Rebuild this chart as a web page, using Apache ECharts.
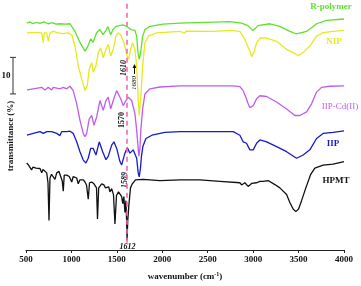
<!DOCTYPE html>
<html><head><meta charset="utf-8">
<script src="https://cdn.jsdelivr.net/npm/echarts@6/dist/echarts.min.js"></script>
<style>html,body{margin:0;padding:0;background:#fff}#c{width:361px;height:286px}</style>
</head><body><div id="c"></div>
<script>
// wavenumber (cm-1), transmittance (%) with vertical offsets as in the figure
const rPolymer = [[510,62.1],[544,62.4],[577,61.9],[610,62.3],[654,62.0],[698,62.4],[742,61.9],[786,62.2],[830,61.8],[874,61.9],[929,61.8],[984,61.9],[1003,62.1],[1039,59.8],[1094,56.8],[1149,54.4],[1182,55.8],[1212,57.8],[1237,56.8],[1278,59.5],[1314,60.3],[1347,58.9],[1380,60.1],[1402,61.1],[1432,58.9],[1457,60.3],[1490,61.2],[1512,61.6],[1567,61.6],[1608,61.2],[1655,60.3],[1677,59.8],[1699,60.1],[1718,58.5],[1732,54.1],[1746,52.2],[1762,54.1],[1784,58.5],[1809,60.3],[1864,61.2],[2007,61.8],[2194,62.1],[2744,62.5],[2873,62.1],[2942,61.4],[2994,60.1],[3019,60.5],[3052,61.4],[3184,61.9],[3294,61.2],[3404,59.8],[3478,59.1],[3588,59.8],[3698,61.9],[3808,62.8],[4000,63.2]];
const nip = [[510,59.4],[563,59.5],[632,59.5],[673,59.4],[690,56.7],[701,59.4],[728,59.4],[745,57.1],[764,59.4],[800,59.8],[855,59.4],[910,59.2],[965,59.4],[1003,58.9],[1039,55.8],[1075,50.4],[1113,46.8],[1149,43.6],[1174,44.9],[1196,49.5],[1223,51.3],[1240,48.6],[1270,50.4],[1295,54.0],[1322,55.3],[1350,52.6],[1380,54.9],[1405,56.2],[1432,53.1],[1460,54.9],[1490,58.5],[1515,59.4],[1542,58.9],[1578,56.7],[1608,53.5],[1630,52.2],[1652,54.9],[1674,56.7],[1699,54.9],[1718,50.4],[1735,41.4],[1746,36.8],[1762,41.4],[1784,50.4],[1809,56.7],[1845,58.5],[1938,59.4],[2194,59.8],[2249,59.3],[2260,59.9],[2560,59.8],[2744,60.1],[2854,59.8],[2909,57.6],[2964,54.4],[2983,52.9],[3008,54.0],[3038,56.7],[3074,58.0],[3148,58.0],[3258,57.1],[3368,54.9],[3440,54.0],[3495,53.2],[3550,54.0],[3624,55.8],[3698,58.5],[3770,59.5],[3880,59.8],[4000,60.1]];
const iipCd = [[510,43.8],[580,44.1],[673,44.5],[690,44.8],[709,43.8],[745,44.5],[764,44.5],[783,43.8],[800,44.5],[838,44.3],[874,44.1],[910,44.5],[948,44.1],[984,44.8],[1003,44.9],[1020,43.6],[1058,40.0],[1094,35.5],[1130,31.9],[1149,31.0],[1168,31.9],[1196,35.9],[1223,36.8],[1248,34.1],[1278,36.4],[1314,40.9],[1350,38.2],[1380,40.9],[1405,41.8],[1432,38.6],[1460,40.9],[1498,43.6],[1515,43.2],[1542,41.4],[1570,39.5],[1600,40.9],[1625,41.8],[1663,40.9],[1680,40.5],[1699,37.3],[1718,32.8],[1735,27.8],[1743,25.7],[1754,27.8],[1765,33.2],[1784,38.6],[1809,42.7],[1864,44.1],[1974,44.6],[2194,44.9],[2378,44.9],[2777,44.9],[2854,44.7],[2890,43.6],[2920,41.8],[2945,40.0],[2964,38.9],[2983,38.6],[3001,39.5],[3038,41.4],[3074,42.2],[3148,42.0],[3258,40.5],[3368,38.6],[3459,36.8],[3514,36.8],[3588,37.8],[3643,40.0],[3698,43.2],[3753,44.5],[3844,44.8],[4000,44.9]];
const iip = [[510,31.4],[580,31.9],[654,32.4],[690,31.9],[728,32.4],[783,32.4],[800,32.5],[838,31.9],[874,31.3],[893,32.4],[948,32.4],[984,32.5],[1020,31.9],[1058,29.6],[1094,26.9],[1130,24.6],[1160,23.8],[1185,25.1],[1212,27.8],[1240,27.8],[1270,26.0],[1306,29.6],[1344,26.9],[1380,24.7],[1405,25.6],[1443,28.7],[1468,29.6],[1498,27.8],[1534,24.2],[1553,23.3],[1589,26.5],[1614,28.0],[1644,26.5],[1680,27.4],[1699,27.8],[1718,25.1],[1735,21.1],[1746,20.0],[1760,22.4],[1771,25.7],[1787,28.4],[1820,30.5],[1886,31.4],[2029,32.2],[2194,32.4],[2780,32.4],[2854,31.4],[2890,29.6],[2927,29.2],[2964,27.4],[2983,27.8],[3001,27.4],[3038,29.2],[3074,30.1],[3148,29.6],[3258,28.3],[3368,26.9],[3478,25.1],[3550,26.0],[3624,27.4],[3698,30.5],[3770,31.9],[3880,32.2],[4000,32.6]];
const hpmt = [[508,23.8],[528,23.2],[544,23.0],[561,21.9],[577,22.7],[610,22.4],[632,22.2],[654,22.3],[673,21.1],[687,22.0],[709,21.6],[728,21.1],[742,18.4],[753,8.1],[764,19.7],[781,20.7],[800,21.1],[819,19.3],[838,21.1],[863,21.5],[885,21.4],[899,18.9],[910,16.1],[921,20.5],[948,20.5],[976,20.1],[1003,18.6],[1020,20.1],[1039,19.7],[1058,19.7],[1075,18.1],[1094,19.2],[1113,19.7],[1133,19.2],[1149,18.6],[1166,17.8],[1185,13.9],[1199,18.4],[1223,18.6],[1248,18.1],[1276,17.0],[1287,8.5],[1300,17.0],[1333,18.1],[1358,17.8],[1375,17.0],[1394,16.5],[1410,17.3],[1424,15.9],[1443,16.8],[1463,15.1],[1479,7.1],[1496,14.9],[1518,15.9],[1534,15.7],[1553,14.6],[1565,12.7],[1577,14.6],[1589,10.3],[1600,13.5],[1606,9.0],[1612,2.7],[1620,8.0],[1632,12.2],[1650,17.0],[1670,18.1],[1705,19.2],[1790,19.3],[1974,19.0],[2194,19.2],[2414,19.2],[2634,18.8],[2854,18.4],[2873,17.8],[2909,18.4],[2945,17.4],[2983,18.2],[3038,18.4],[3074,18.8],[3110,18.8],[3165,19.0],[3239,17.9],[3294,17.0],[3368,15.2],[3404,13.0],[3440,11.2],[3470,10.5],[3500,11.2],[3533,13.5],[3580,17.0],[3632,20.6],[3679,22.4],[3770,23.2],[3880,23.5],[4000,24.2]];
const seriesNames = ['R-polymer','NIP','IIP-Cd(II)','IIP','HPMT'];
const seriesColors = ['#5de22c','#e6ea1c','#bf5cf0','#1a1ac8','#111111'];
const seriesData = [rPolymer, nip, iipCd, iip, hpmt];
const xTicks = {min:500, max:4000, interval:500};
const refLine = 1612;
const scaleBar = [42.7, 52.7];

const serif = '"Liberation Serif","Times New Roman",serif';
const chart = echarts.init(document.getElementById('c'));
const series = seriesData.map((d,i)=>({
  name: seriesNames[i], type:'line', data:d, showSymbol:false, symbol:'none',
  lineStyle:{color:seriesColors[i], width:1.3}, itemStyle:{color:seriesColors[i]},
  z: 5-i, animation:false
}));
series[0].markLine = {
  silent:true, symbol:'none', animation:false, label:{show:false},
  lineStyle:{color:'#f06ab0', type:[5,4], width:1.6},
  data:[[{coord:[refLine,2]},{coord:[refLine,68.4]}]]
};
chart.setOption({
  animation:false,
  grid:{left:26, right:17, top:0, bottom:33},
  xAxis:{type:'value', min:xTicks.min, max:xTicks.max, interval:xTicks.interval,
    axisLine:{lineStyle:{color:'#222', width:1}},
    axisTick:{show:true, length:3, lineStyle:{color:'#222'}},
    splitLine:{show:false},
    axisLabel:{color:'#111', fontFamily:serif, fontWeight:'bold', fontSize:9, margin:5, formatter:v=>String(v)},
    name:'wavenumber (cm{s|-1})', nameLocation:'middle', nameGap:21,
    nameTextStyle:{color:'#111', fontFamily:serif, fontWeight:'bold', fontSize:9,
      rich:{s:{fontSize:6, fontFamily:serif, fontWeight:'bold', color:'#111', padding:[0,0,5,0]}}}
  },
  yAxis:{type:'value', min:0, max:68.4, show:false},
  series
});
function px(x,y){return chart.convertToPixel({gridIndex:0},[x,y]);}
const b0 = px(500, scaleBar[0]), b1 = px(500, scaleBar[1]);
const bx = 13;
const txt = (x,y,t,o)=>Object.assign({type:'text', x, y, style:Object.assign({text:t, fontFamily:serif, fontSize:9, fontWeight:'bold', fill:'#111', align:'center', verticalAlign:'middle'}, o||{})});
chart.setOption({graphic:[
  {type:'line', shape:{x1:bx,y1:b0[1],x2:bx,y2:b1[1]}, style:{stroke:'#333', lineWidth:1}},
  {type:'line', shape:{x1:bx-3,y1:b0[1],x2:bx+3,y2:b0[1]}, style:{stroke:'#333', lineWidth:1}},
  {type:'line', shape:{x1:bx-3,y1:b1[1],x2:bx+3,y2:b1[1]}, style:{stroke:'#333', lineWidth:1}},
  txt(6,(b0[1]+b1[1])/2,'10'),
  Object.assign(txt(11,136,'transmittance (%)'),{rotation:Math.PI/2}),
  Object.assign(txt(123.5,68,'1610',{fontStyle:'italic', fontSize:8}),{rotation:Math.PI/2}),
  Object.assign(txt(134.5,83,'1680',{fontStyle:'italic', fontSize:7, fontWeight:'normal'}),{rotation:Math.PI/2}),
  {type:'line', shape:{x1:134.5,y1:74,x2:134.5,y2:66}, style:{stroke:'#111', lineWidth:1}},
  {type:'polygon', shape:{points:[[132.5,68],[136.5,68],[134.5,64]]}, style:{fill:'#111'}},
  Object.assign(txt(122,120,'1570',{fontSize:8}),{rotation:Math.PI/2}),
  Object.assign(txt(124.5,180,'1589',{fontStyle:'italic', fontSize:8}),{rotation:Math.PI/2}),
  txt(127.5,247,'1612',{fontStyle:'italic', fontSize:8}),
  txt(331,7,'R-polymer',{fill:seriesColors[0]}),
  txt(334,42,'NIP',{fill:seriesColors[1]}),
  txt(340,107,'IIP-Cd(II)',{fill:seriesColors[2], fontWeight:'normal'}),
  txt(333,144,'IIP',{fill:seriesColors[3]}),
  txt(336,181,'HPMT',{fill:seriesColors[4]})
]});
</script>
</body></html>
